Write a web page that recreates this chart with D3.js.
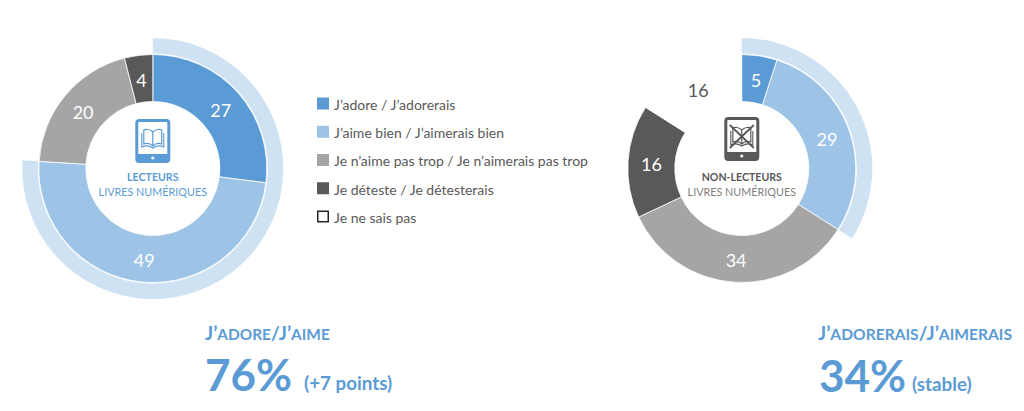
<!DOCTYPE html>
<html>
<head>
<meta charset="utf-8">
<script src="https://cdn.jsdelivr.net/npm/d3@7"></script>
<style>
body { margin: 0; background: #fff; }
text { font-family: Lato, "Open Sans", sans-serif; }
</style>
</head>
<body>
<div id="chart"></div>
<script>
// Values
var categories = ["J\u2019adore / J\u2019adorerais", "J\u2019aime bien / J\u2019aimerais bien",
    "Je n\u2019aime pas trop / Je n\u2019aimerais pas trop", "Je d\u00e9teste / Je d\u00e9testerais", "Je ne sais pas"];
var lecteurs = [27, 49, 20, 4, 0];
var nonLecteurs = [5, 29, 34, 16, 16];

var colors = ["#5b9bd5", "#9dc3e6", "#a5a5a5", "#595959", "#ffffff"];
var labelColors = ["#fff", "#fff", "#fff", "#fff", "#595959"];
var blue = "#5b9bd5";
var ringColor = "#cfe2f3";

var svgWidth = 1024;
var svgHeight = 411;

var svg = d3.select("#chart").append("svg")
    .attr("width", svgWidth)
    .attr("height", svgHeight)
    .style("display", "block");

var color = d3.scaleOrdinal().domain(categories).range(colors);
var labelColor = d3.scaleOrdinal().domain(categories).range(labelColors);

var pie = d3.pie().sort(null).value(d => d.value);
var arc = d3.arc().innerRadius(67).outerRadius(114);
var ringArc = d3.arc().innerRadius(115).outerRadius(130.5);
var angle = d3.scaleLinear().domain([0, 100]).range([0, 2 * Math.PI]);

// One donut, plus the pale ring over the two positive answers
function drawDonut(cx, cy, values) {
    var g = svg.append("g").attr("transform", `translate(${cx}, ${cy})`);
    var rows = categories.map((c, i) => ({ category: c, value: values[i] }));
    var slices = pie(rows).filter(d => d.data.value > 0);

    g.append("path")
        .attr("d", ringArc({ startAngle: 0, endAngle: angle(values[0] + values[1]) }))
        .attr("fill", ringColor);

    g.selectAll(".slice").data(slices).enter().append("path")
        .attr("class", "slice")
        .attr("d", arc)
        .attr("fill", d => color(d.data.category))
        .attr("stroke", "#fff")
        .attr("stroke-width", d => d.data.category === categories[4] ? 0 : 0.8);

    g.selectAll(".val").data(slices).enter().append("text")
        .attr("class", "val")
        .attr("transform", d => `translate(${arc.centroid(d)})`)
        .attr("text-anchor", "middle")
        .attr("dy", "0.45em")
        .attr("font-size", 18)
        .attr("fill", d => labelColor(d.data.category))
        .text(d => d.data.value);
    return g;
}

function centerText(g, first, second, firstColor, secondColor) {
    g.append("text").attr("text-anchor", "middle").attr("y", 12.5)
        .attr("font-size", 10.6).attr("font-weight", 700).attr("fill", firstColor).text(first);
    g.append("text").attr("text-anchor", "middle").attr("y", 27)
        .attr("font-size", 10.8).attr("fill", secondColor).text(second);
}

// Tablet outline, the icon origin is the middle of the tablet
function tablet(g, cy, col) {
    var t = g.append("g").attr("transform", `translate(0, ${cy})`);
    t.append("rect").attr("x", -16).attr("y", -20.5).attr("width", 32).attr("height", 41).attr("rx", 2.5)
        .attr("fill", "none").attr("stroke", col).attr("stroke-width", 3);
    t.append("rect").attr("x", -16).attr("y", 13).attr("width", 32).attr("height", 8).attr("fill", col);
    t.append("circle").attr("cy", 17).attr("r", 1.6).attr("fill", "#fff");
    return t;
}

function book(t, col) {
    t.append("path")
        .attr("d", "M0,-9 C-3,-12 -7,-12 -9,-11 L-9,3 C-6,2 -3,2 0,5 C3,2 6,2 9,3 L9,-11 C7,-12 3,-12 0,-9 Z M0,-9 L0,5")
        .attr("fill", "none").attr("stroke", col).attr("stroke-width", 1.2);
    t.append("path")
        .attr("d", "M-11,-8 L-11,6 C-7,4 -3,5 0,7 C3,5 7,4 11,6 L11,-8")
        .attr("fill", "none").attr("stroke", col).attr("stroke-width", 1.1);
}

var left = drawDonut(152.8, 168.5, lecteurs);
centerText(left, "LECTEURS", "LIVRES NUM\u00c9RIQUES", blue, blue);
var leftIcon = tablet(left, -27.5, blue);
book(leftIcon, blue);

var right = drawDonut(741.8, 168.5, nonLecteurs);
centerText(right, "NON-LECTEURS", "LIVRES NUM\u00c9RIQUES", "#595959", "#7f7f7f");
var rightIcon = tablet(right, -29.5, "#595959");
book(rightIcon, "#595959");
rightIcon.append("path")
    .attr("d", "M-12,-14 L12,9 M12,-14 L-12,9")
    .attr("stroke", "#595959").attr("stroke-width", 1.8);

// Legend
var legendY = d3.scalePoint().domain(categories).range([104, 217]);
var legend = svg.selectAll(".legend").data(categories).enter().append("g")
    .attr("class", "legend")
    .attr("transform", d => `translate(317, ${legendY(d)})`);
legend.append("rect")
    .attr("x", 0.75).attr("y", -5.75).attr("width", 10.5).attr("height", 10.5)
    .attr("fill", d => color(d))
    .attr("stroke", d => d === categories[4] ? "#262626" : color(d))
    .attr("stroke-width", 1.5);
legend.append("text")
    .attr("x", 17).attr("dy", "0.42em")
    .attr("font-size", 14).attr("fill", "#595959")
    .text(d => d);

// Bottom captions, small caps built by hand
function caption(x, y, parts) {
    var t = svg.append("text").attr("x", x).attr("y", y)
        .attr("font-weight", 700).attr("fill", blue);
    parts.forEach(p => t.append("tspan").attr("font-size", p[1]).text(p[0]));
}
function bigNumber(x, y, pct, noteX, noteY, note) {
    svg.append("text").attr("x", x).attr("y", y)
        .attr("font-size", 44).attr("font-weight", 700).attr("fill", blue)
        .text(pct + "%");
    svg.append("text").attr("x", noteX).attr("y", noteY)
        .attr("font-size", 18.8).attr("font-weight", 700).attr("fill", blue)
        .text(note);
}

caption(205, 340, [["J\u2019", 19], ["ADORE", 15.4], ["/J\u2019", 19], ["AIME", 15.4]]);
bigNumber(205, 391, lecteurs[0] + lecteurs[1], 304, 390, "(+7 points)");

caption(818, 340, [["J\u2019", 19], ["ADORERAIS", 15.6], ["/J\u2019", 19], ["AIMERAIS", 15.6]]);
bigNumber(819, 392, nonLecteurs[0] + nonLecteurs[1], 912, 391, "(stable)");
</script>
</body>
</html>
